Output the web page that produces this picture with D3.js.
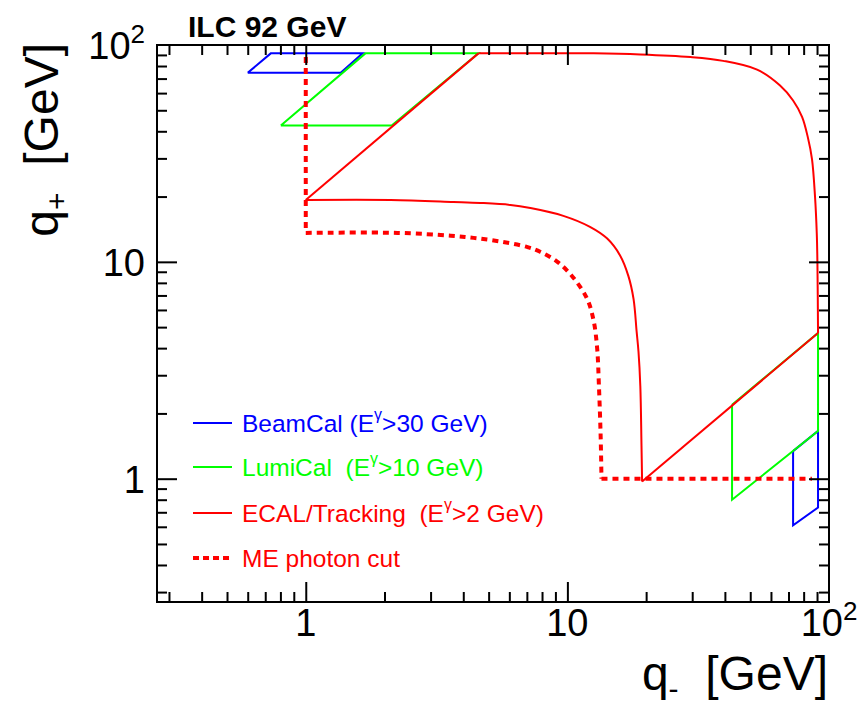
<html>
<script src='https://d3js.org/d3.v7.min.js'></script>
<style>
body {margin:0; background:white;}
text {font-family: "Liberation Sans", Arial, Helvetica, sans-serif; white-space: pre;}
</style>
<body onload='init()'>
<svg width=861 height=715></svg>
<script>
// q- (x) and q+ (y) in GeV
var beamcalUpper = [[0.60,74.4],[0.735,91.5],[1.65,91.5],[1.36,74.4],[0.60,74.4]];
var beamcalLower = [[72.9,1.34],[72.9,0.61],[90.8,0.736],[90.8,1.66],[72.9,1.34]];
var lumicalUpper = [[0.803,42.5],[1.69,91.5],[4.57,91.5],[2.13,42.5],[0.803,42.5]];
var lumicalLower = [[42.6,2.19],[42.6,0.80],[90.8,1.66],[90.8,4.7],[42.6,2.19]];
var ecalDiagUpper = [[1.0,19.3],[4.57,91.5]];
var ecalOuter = [[4.57,91.5],[12.6,91.5],[19.0,90.5],[29.5,88.0],[39.4,84.5],[53.1,77.0],
  [65.0,65.0],[72.9,55.5],[78.9,46.6],[83.1,37.3],[86.1,29.8],[88.4,20.1],[89.8,13.5],[90.3,10.0],
  [90.8,4.7]];
var ecalDiagLower = [[90.8,4.7],[19.3,0.97]];
var ecalInner = [[19.3,0.97],[19.2,1.42],[19.0,2.68],[18.7,3.85],[18.4,4.75],[17.9,6.75],[17.1,8.62],
  [15.9,10.7],[14.2,12.8],[12.2,14.5],[9.65,16.3],[7.22,17.7],[6.06,18.3],[4.65,18.7],[3.67,18.9],
  [2.11,19.3],[1.0,19.3]];
var meCutVertical = [[1.0,88],[1.0,13.6]];
var meCutCurve = [[1.0,13.6],[2.24,13.6],[3.58,13.2],[4.38,12.9],[5.55,12.4],[7.04,11.7],
  [7.9,11.1],[9.16,10.0],[10.5,8.5],[11.9,6.75],[12.6,5.35],[13.0,3.97],[13.2,2.68],[13.4,1.58],
  [13.5,1.0]];
var meCutFloor = [[13.5,1.0],[86,1.0]];

var xDomain = [0.27, 100];
var yDomain = [0.27, 100];
var majorTicks = [1, 10, 100];
var tickLabels = [["1",""],["10",""],["10","2"]];
var legendLabels = [
  {pre:"BeamCal (E", sup:"\u03b3", post:">30 GeV)", color:"#0000ff", dash:null},
  {pre:"LumiCal  (E", sup:"\u03b3", post:">10 GeV)", color:"#00ff00", dash:null},
  {pre:"ECAL/Tracking  (E", sup:"\u03b3", post:">2 GeV)", color:"#ff0000", dash:null},
  {pre:"ME photon cut", sup:"", post:"", color:"#ff0000", dash:"6,4"}
];

function init() {
var left = 157, right = 829, top = 45, bottom = 602;
var x = d3.scaleLog().domain(xDomain).range([left, right]);
var y = d3.scaleLog().domain(yDomain).range([bottom, top]);
var svg = d3.select('svg');

function minorTicks(dom) {
  var t = [];
  [0.1, 1, 10].forEach(function(d) {
    for (var k = 2; k <= 9; k++) { var v = d*k; if (v >= dom[0] && v <= dom[1]) t.push(v); }
  });
  return t;
}

var line = d3.line().x(function(d) {return x(d[0]);}).y(function(d) {return y(d[1]);});
var smooth = d3.line().curve(d3.curveCatmullRom.alpha(0.5))
  .x(function(d) {return x(d[0]);}).y(function(d) {return y(d[1]);});

var plot = svg.append('g');
function draw(data, gen, color, width, dash) {
  plot.append('path').attr('d', gen(data)).attr('fill', 'none')
    .attr('stroke', color).attr('stroke-width', width)
    .attr('stroke-dasharray', dash);
}
draw(beamcalUpper, line, '#0000ff', 2);
draw(beamcalLower, line, '#0000ff', 2);
draw(lumicalUpper, line, '#00ff00', 2);
draw(lumicalLower, line, '#00ff00', 2);
draw(ecalDiagUpper, line, '#ff0000', 2);
draw(ecalOuter, smooth, '#ff0000', 2);
draw(ecalDiagLower, line, '#ff0000', 2);
draw(ecalInner, smooth, '#ff0000', 2);
draw(meCutVertical, line, '#ff0000', 4, '6,5');
draw(meCutCurve, smooth, '#ff0000', 4, '6,5');
draw(meCutFloor, line, '#ff0000', 4, '6,5');

// axes: ticks inward on all four sides
function axes(gen, scale, tr, vals, size) {
  svg.append('g').attr('transform', tr)
    .call(gen(scale).tickValues(vals).tickSize(size).tickFormat(''))
    .call(function(g) { g.select('.domain').remove(); })
    .selectAll('line').attr('stroke', 'black').attr('stroke-width', 2);
}
[[majorTicks.filter(function(v){return v<100;}), 20], [minorTicks(xDomain), 10]].forEach(function(p) {
  axes(d3.axisBottom, x, 'translate(0,' + bottom + ')', p[0], -p[1]);
  axes(d3.axisTop, x, 'translate(0,' + top + ')', p[0], -p[1]);
});
[[majorTicks.filter(function(v){return v<100;}), 20], [minorTicks(yDomain), 10]].forEach(function(p) {
  axes(d3.axisLeft, y, 'translate(' + left + ',0)', p[0], -p[1]);
  axes(d3.axisRight, y, 'translate(' + right + ',0)', p[0], -p[1]);
});
svg.append('rect').attr('x', left).attr('y', top).attr('width', right-left).attr('height', bottom-top)
  .attr('fill', 'none').attr('stroke', 'black').attr('stroke-width', 2);

// tick labels
majorTicks.forEach(function(v, i) {
  var t = svg.append('text').attr('x', x(v)).attr('y', bottom + 34)
    .attr('text-anchor', 'middle').attr('font-size', 38);
  t.append('tspan').text(tickLabels[i][0]);
  if (tickLabels[i][1]) t.append('tspan').attr('font-size', 26).attr('dy', -16).text(tickLabels[i][1]);
  var s = svg.append('text').attr('x', left - 12).attr('y', y(v) + 14)
    .attr('text-anchor', 'end').attr('font-size', 38);
  s.append('tspan').text(tickLabels[i][0]);
  if (tickLabels[i][1]) s.append('tspan').attr('font-size', 26).attr('dy', -16).text(tickLabels[i][1]);
});

// axis titles
var xt = svg.append('text').attr('x', 828).attr('y', 690).attr('text-anchor', 'end').attr('font-size', 48);
xt.append('tspan').text('q');
xt.append('tspan').attr('font-size', 30).attr('dy', 9).text('-');
xt.append('tspan').attr('dy', -9).text('  [GeV]');
var yt = svg.append('text').attr('transform', 'translate(58,43) rotate(-90)')
  .attr('text-anchor', 'end').attr('font-size', 48);
yt.append('tspan').text('q');
yt.append('tspan').attr('font-size', 30).attr('dy', 9).text('+');
yt.append('tspan').attr('dy', -9).text('  [GeV]');

// title
svg.append('text').attr('x', 188).attr('y', 37).attr('font-size', 30).attr('font-weight', 'bold')
  .text('ILC 92 GeV');

// legend
var rows = [423, 467, 513, 558];
legendLabels.forEach(function(d, i) {
  svg.append('line').attr('x1', 193).attr('x2', 232).attr('y1', rows[i]).attr('y2', rows[i])
    .attr('stroke', d.color).attr('stroke-width', d.dash ? 4 : 2).attr('stroke-dasharray', d.dash);
  var t = svg.append('text').attr('x', 242).attr('y', rows[i] + 9).attr('font-size', 24.5)
    .attr('fill', d.color);
  t.append('tspan').text(d.pre);
  if (d.sup) {
    t.append('tspan').attr('font-size', 16).attr('dy', -12).text(d.sup);
    t.append('tspan').attr('dy', 12).text(d.post);
  }
});
}
</script>
</body>
</html>
